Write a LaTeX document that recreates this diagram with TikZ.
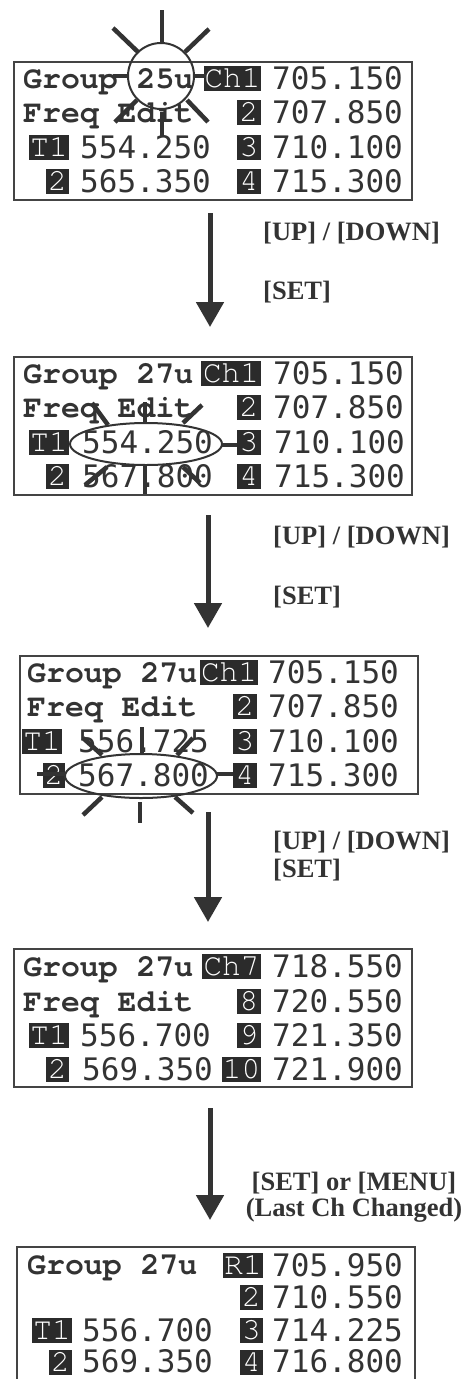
\documentclass[tikz,border=0pt]{standalone}
\usepackage{fontspec}
\usetikzlibrary{arrows.meta}
\newfontfamily\grpfont{texgyrecursor}[Extension=.otf, UprightFont=*-regular, BoldFont=*-bold]
\newfontfamily\numfont{DejaVu Sans Mono}
\newfontfamily\labfont{Liberation Serif}
\definecolor{ink}{HTML}{333333}
\definecolor{blkc}{HTML}{2B2B2B}
\definecolor{edge}{HTML}{444444}
\tikzset{
  panelbox/.style={draw=edge, line width=2pt, minimum width=398pt, minimum height=138pt, inner sep=0pt},
  grp/.style={anchor=base west, inner sep=0pt, text=ink, font={\grpfont\bfseries\fontsize{31.5}{31.5}\selectfont}},
  num/.style={anchor=base west, inner sep=0pt, text=ink, font={\numfont\fontsize{31}{31}\selectfont}},
  blk/.style={fill=blkc, text=white, inner sep=0pt, minimum height=25pt, font={\grpfont\fontsize{31}{31}\selectfont}},
  ray/.style={draw=ink, line width=4.5pt},
  selring/.style={draw=ink, line width=2pt},
  arr/.style={draw=ink, line width=5pt, -{Triangle[width=27pt,length=25pt]}},
  lab/.style={inner sep=0pt, text=ink, font={\labfont\bfseries\fontsize{26.5}{26.5}\selectfont}}
}
\begin{document}
\begin{tikzpicture}[x=1pt,y=-1pt]
\useasboundingbox[fill=white] (0,0) rectangle (467,1379);
% ---------- Panel 1 ----------
\node[panelbox] (p1) at (213,131) {};
\node[grp] (p1g) at (23,88) {Group 25u};
\node[grp] (p1f) at (23,122) {Freq Edit};
\node[blk, minimum width=57pt] (p1c) at (232.5,78) {Ch1};
\node[blk, minimum width=24pt] (p1b2) at (249,112) {2};
\node[blk, minimum width=24pt] (p1b3) at (249,147) {3};
\node[blk, minimum width=24pt] (p1b4) at (249,181) {4};
\node[num] (p1n1) at (272,89) {705.150};
\node[num] (p1n2) at (272,123) {707.850};
\node[num] (p1n3) at (272,158) {710.100};
\node[num] (p1n4) at (272,192) {715.300};
\node[blk, minimum width=40pt] (p1t) at (49,147) {T1};
\node[num] (p1m1) at (80,158) {554.250};
\node[blk, minimum width=23pt] (p1t2) at (57.5,181) {2};
\node[num] (p1m2) at (80,192) {565.350};
\draw[selring] (161,76) circle[radius=33pt];
\draw[ray] (162,10) -- (162,43);
\draw[ray] (113,28) -- (138,52);
\draw[ray] (209,29) -- (185,52);
\draw[ray] (113,76) -- (128,76);
\draw[ray] (194,76) -- (206,76);
\draw[ray] (115,122) -- (137,100);
\draw[ray] (208,122) -- (187,100);
\draw[ray] (162,112) -- (162,137);
% ---------- Arrow 1 ----------
\coordinate (a1s) at (210,213);
\coordinate (a1e) at (210,327);
\draw[arr] (a1s) -- (a1e);
\node[lab, anchor=west] (l1a) at (263,233) {[UP] / [DOWN]};
\node[lab, anchor=west] (l1b) at (263,292) {[SET]};
% ---------- Panel 2 ----------
\node[panelbox] (p2) at (213,426) {};
\node[grp] (p2g) at (23,383) {Group 27u};
\node[grp] (p2f) at (23,417) {Freq Edit};
\node[blk, minimum width=60pt] (p2c) at (231,373) {Ch1};
\node[blk, minimum width=24pt] (p2b2) at (249,407) {2};
\node[blk, minimum width=24pt] (p2b3) at (249,442) {3};
\node[blk, minimum width=24pt] (p2b4) at (249,476) {4};
\node[num] (p2n1) at (273,384) {705.150};
\node[num] (p2n2) at (273,418) {707.850};
\node[num] (p2n3) at (274,453) {710.100};
\node[num] (p2n4) at (274,487) {715.300};
\node[blk, minimum width=40pt] (p2t) at (49,442) {T1};
\node[num] (p2m1) at (82,453) {554.250};
\node[blk, minimum width=23pt] (p2t2) at (57.5,476) {2};
\node[num] (p2m2) at (82,487) {567.800};
\draw[selring] (146,444) ellipse[x radius=76pt, y radius=21pt];
\draw[ray] (145,402) -- (145,423);
\draw[ray] (92,403) -- (108,425);
\draw[ray] (202,405) -- (183,423);
\draw[ray] (222,445) -- (237,445);
\draw[ray] (145,465) -- (145,494);
\draw[ray] (85,485) -- (107,467);
\draw[ray] (200,483) -- (183,467);
% ---------- Arrow 2 ----------
\coordinate (a2s) at (208,515);
\coordinate (a2e) at (208,628);
\draw[arr] (a2s) -- (a2e);
\node[lab, anchor=west] (l2a) at (273,537) {[UP] / [DOWN]};
\node[lab, anchor=west] (l2b) at (273,597) {[SET]};
% ---------- Panel 3 ----------
\node[panelbox] (p3) at (218.5,725) {};
\node[grp] (p3g) at (27,682) {Group 27u};
\node[grp] (p3f) at (27,716) {Freq Edit};
\node[blk, minimum width=58pt] (p3c) at (229,672) {Ch1};
\node[blk, minimum width=24pt] (p3b2) at (245,706) {2};
\node[blk, minimum width=24pt] (p3b3) at (245,741) {3};
\node[blk, minimum width=24pt] (p3b4) at (245,775) {4};
\node[num] (p3n1) at (268,683) {705.150};
\node[num] (p3n2) at (268,717) {707.850};
\node[num] (p3n3) at (268,752) {710.100};
\node[num] (p3n4) at (268,786) {715.300};
\node[blk, minimum width=40pt] (p3t) at (42,741) {T1};
\node[num] (p3m1) at (78,752) {556.725};
\node[blk, minimum width=22pt] (p3t2) at (54,775) {2};
\node[num] (p3m2) at (78,786) {567.800};
\draw[selring] (141,776) ellipse[x radius=76pt, y radius=22pt];
\draw[ray] (142,727) -- (142,754);
\draw[ray] (83,738) -- (102,755);
\draw[ray] (193,738) -- (177,755);
\draw[ray] (217,774) -- (233,774);
\draw[ray] (37,774) -- (65,774);
\draw[ray] (140,802) -- (140,823);
\draw[ray] (83,815) -- (102,797);
\draw[ray] (193,813) -- (175,797);
% ---------- Arrow 3 ----------
\coordinate (a3s) at (208,812);
\coordinate (a3e) at (208,922);
\draw[arr] (a3s) -- (a3e);
\node[lab, anchor=west] (l3a) at (273,842) {[UP] / [DOWN]};
\node[lab, anchor=west] (l3b) at (273,870) {[SET]};
% ---------- Panel 4 ----------
\node[panelbox] (p4) at (213,1018) {};
\node[grp] (p4g) at (23,976) {Group 27u};
\node[grp] (p4f) at (23,1011) {Freq Edit};
\node[blk, minimum width=59pt] (p4c) at (231.5,966) {Ch7};
\node[blk, minimum width=24pt] (p4b2) at (249,1001) {8};
\node[blk, minimum width=24pt] (p4b3) at (249,1035) {9};
\node[blk, minimum width=39pt] (p4b4) at (241.5,1069) {10};
\node[num] (p4n1) at (272,977) {718.550};
\node[num] (p4n2) at (272,1012) {720.550};
\node[num] (p4n3) at (272,1046) {721.350};
\node[num] (p4n4) at (272,1080) {721.900};
\node[blk, minimum width=40pt] (p4t) at (49,1035) {T1};
\node[num] (p4m1) at (80,1046) {556.700};
\node[blk, minimum width=23pt] (p4t2) at (57.5,1069) {2};
\node[num] (p4m2) at (82,1080) {569.350};
% ---------- Arrow 4 ----------
\coordinate (a4s) at (210,1108);
\coordinate (a4e) at (210,1220);
\draw[arr] (a4s) -- (a4e);
\node[lab] (l4a) at (354,1183) {[SET] or [MENU]};
\node[lab] (l4b) at (354,1210) {(Last Ch Changed)};
% ---------- Panel 5 ----------
\node[panelbox] (p5) at (216,1316) {};
\node[grp] (p5g) at (27,1274) {Group 27u};
\node[blk, minimum width=40pt] (p5c) at (243,1265) {R1};
\node[blk, minimum width=23pt] (p5b2) at (251.5,1297) {2};
\node[blk, minimum width=23pt] (p5b3) at (251.5,1330) {3};
\node[blk, minimum width=23pt] (p5b4) at (251.5,1362) {4};
\node[num] (p5n1) at (272,1276) {705.950};
\node[num] (p5n2) at (272,1308) {710.550};
\node[num] (p5n3) at (272,1341) {714.225};
\node[num] (p5n4) at (272,1372.5) {716.800};
\node[blk, minimum width=40pt] (p5t) at (52,1330) {T1};
\node[num] (p5m1) at (82,1341) {556.700};
\node[blk, minimum width=23pt] (p5t2) at (60.5,1362) {2};
\node[num] (p5m2) at (82,1372.5) {569.350};
\end{tikzpicture}
\end{document}
